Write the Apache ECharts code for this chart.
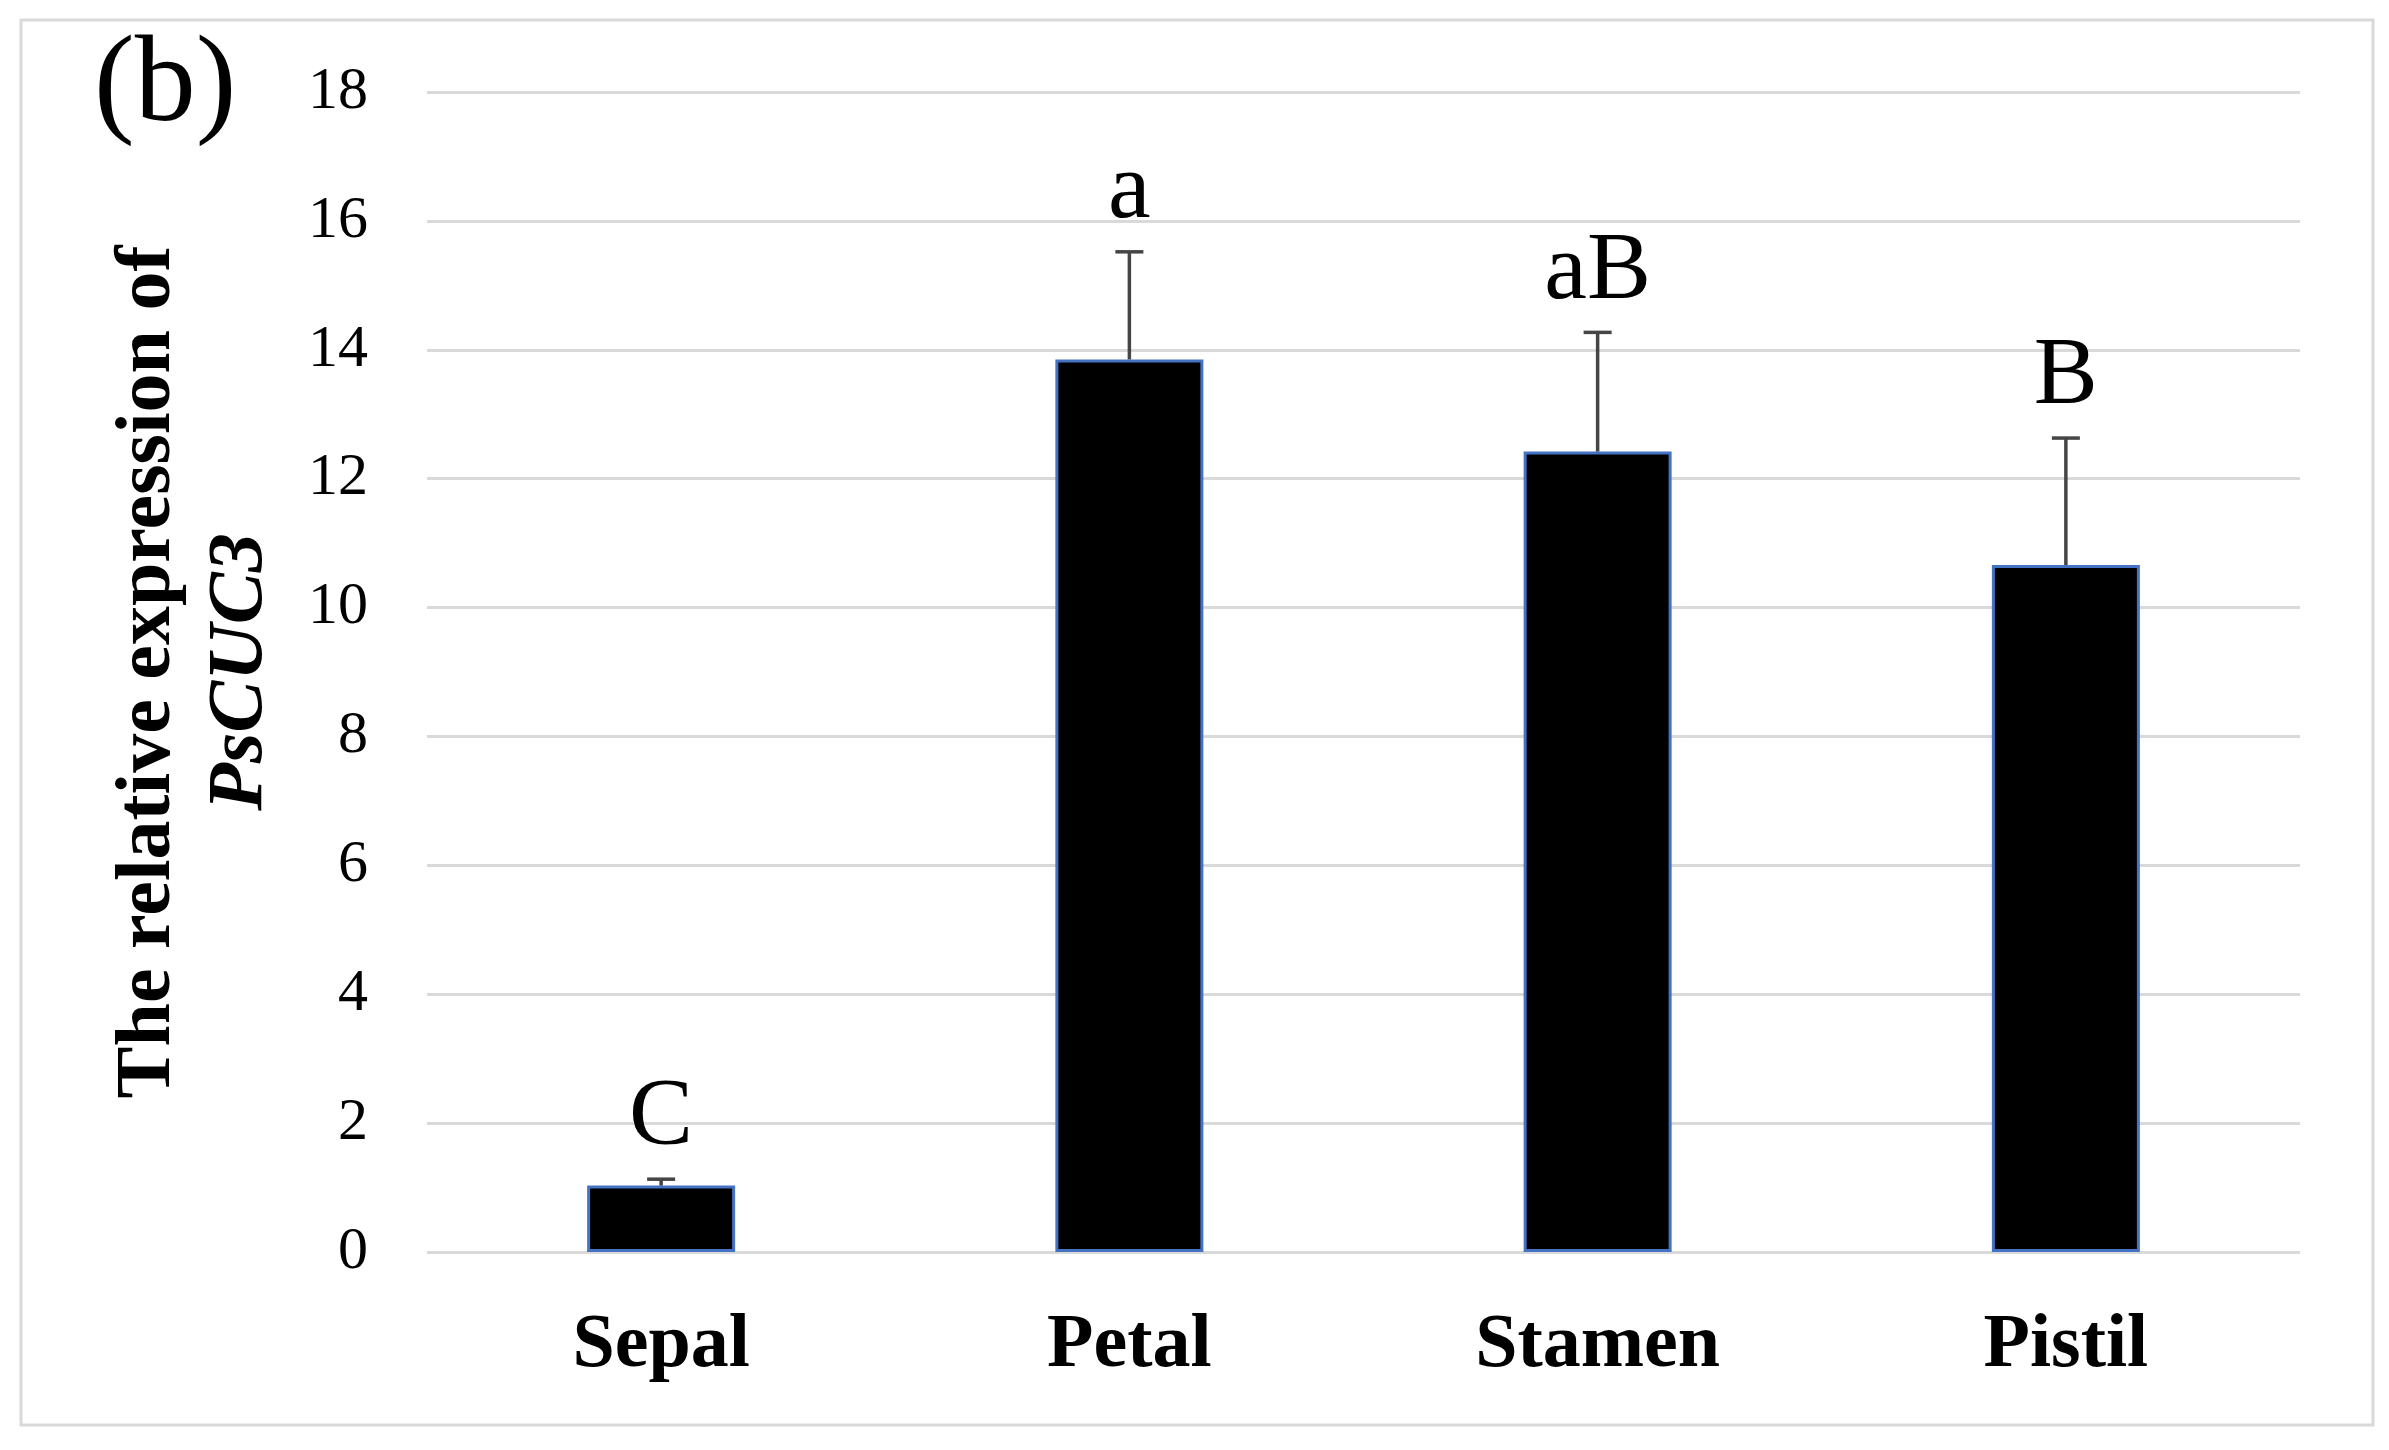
<!DOCTYPE html>
<html>
<head>
<meta charset="utf-8">
<script src="https://cdn.jsdelivr.net/npm/echarts@6/dist/echarts.min.js"></script>
<style>
  html, body { margin: 0; padding: 0; background: #ffffff; }
  #chart { width: 2389px; height: 1450px; }
</style>
</head>
<body>
<div id="chart"></div>
<script>
// ---- data ----
const categories = ['Sepal', 'Petal', 'Stamen', 'Pistil'];
const means = [1.03, 13.85, 12.42, 10.66];
const errors = [0.10, 1.67, 1.85, 1.97];
const letters = ['C', 'a', 'aB', 'B'];
const yTicks = [0, 2, 4, 6, 8, 10, 12, 14, 16, 18];

const SERIF = '"Liberation Serif", "Times New Roman", serif';

const chart = echarts.init(document.getElementById('chart'));

const errData = categories.map((c, i) => [i, means[i], errors[i], letters[i]]);

chart.setOption({
  backgroundColor: '#ffffff',
  animation: false,
  graphic: [
    {
      type: 'rect',
      shape: { x: 21, y: 20, width: 2352, height: 1405 },
      style: { fill: 'none', stroke: '#d9d9d9', lineWidth: 3 },
      silent: true
    },
    {
      type: 'text',
      x: 94,
      y: 88,
      style: {
        text: '(b)',
        font: '122px ' + SERIF,
        fill: '#000000',
        textAlign: 'left',
        textVerticalAlign: 'middle'
      }
    }
  ],
  grid: { left: 427, right: 89, top: 92, bottom: 198 },
  xAxis: {
    type: 'category',
    data: categories,
    boundaryGap: true,
    axisLine: { show: false },
    axisTick: { show: false },
    axisLabel: {
      margin: 56,
      fontFamily: SERIF,
      fontWeight: 'bold',
      fontSize: 76,
      color: '#000000'
    }
  },
  yAxis: {
    type: 'value',
    min: yTicks[0],
    max: yTicks[yTicks.length - 1],
    interval: yTicks[1] - yTicks[0],
    name: 'The relative expression of\n{i|PsCUC3}',
    nameLocation: 'middle',
    nameGap: 140,
    nameTextStyle: {
      fontFamily: SERIF,
      fontWeight: 'bold',
      fontSize: 78,
      lineHeight: 92,
      color: '#000000',
      align: 'center',
      rich: {
        i: {
          fontFamily: SERIF,
          fontWeight: 'bold',
          fontStyle: 'italic',
          fontSize: 78,
          lineHeight: 92,
          color: '#000000'
        }
      }
    },
    axisLine: { show: false },
    axisTick: { show: false },
    axisLabel: {
      margin: 59,
      fontFamily: SERIF,
      fontSize: 60,
      color: '#000000'
    },
    splitLine: { lineStyle: { color: '#d9d9d9', width: 3 } }
  },
  series: [
    {
      type: 'bar',
      data: means,
      barWidth: 148,
      itemStyle: { color: '#000000', borderColor: '#4472c4', borderWidth: 3 },
      z: 2
    },
    {
      type: 'custom',
      data: errData,
      z: 3,
      renderItem: function (params, api) {
        const idx = api.value(0);
        const m = api.value(1);
        const e = api.value(2);
        const lab = errData[params.dataIndex][3];
        const p0 = api.coord([idx, m]);
        const p1 = api.coord([idx, m + e]);
        const cap = 14;
        const st = { stroke: '#454545', lineWidth: 3.5 };
        return {
          type: 'group',
          children: [
            { type: 'line', shape: { x1: p0[0], y1: p0[1], x2: p1[0], y2: p1[1] }, style: st },
            { type: 'line', shape: { x1: p1[0] - cap, y1: p1[1], x2: p1[0] + cap, y2: p1[1] }, style: st },
            {
              type: 'text',
              x: p1[0],
              y: p1[1] - 12,
              style: {
                text: lab,
                font: '96px ' + SERIF,
                fill: '#000000',
                textAlign: 'center',
                textVerticalAlign: 'bottom'
              }
            }
          ]
        };
      }
    }
  ]
});
</script>
</body>
</html>
